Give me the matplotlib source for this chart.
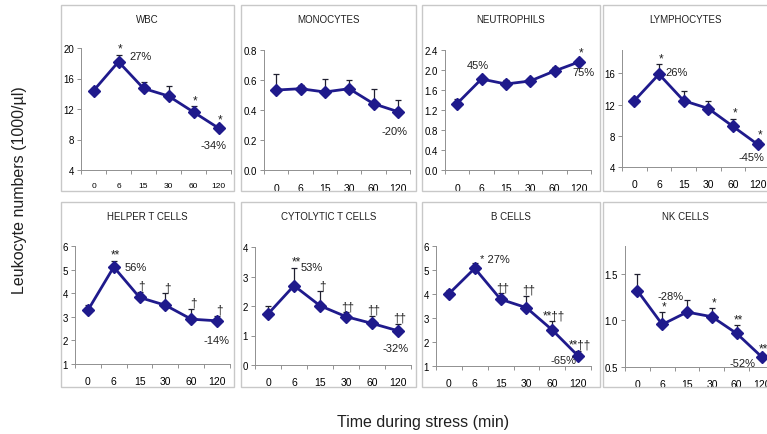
import matplotlib
matplotlib.use("Agg")
import matplotlib.pyplot as plt
from matplotlib.patches import Rectangle
import numpy as np

plt.rcParams['font.family'] = ['Liberation Sans', 'DejaVu Sans']

times = ['0', '6', '15', '30', '60', '120']

wbc = [14.4, 18.2, 14.7, 13.7, 11.6, 9.5]
wbc_err = [0.3, 0.9, 0.9, 1.3, 0.8, 0.4]
mono = [0.533, 0.542, 0.52, 0.542, 0.442, 0.389]
mono_err = [0.105, 0.022, 0.089, 0.056, 0.096, 0.078]
neut = [1.33, 1.82, 1.72, 1.78, 1.98, 2.16]
neut_err = [0.10, 0.04, 0.08, 0.04, 0.09, 0.07]
lymph = [12.5, 15.9, 12.5, 11.5, 9.2, 6.9]
lymph_err = [0.4, 1.3, 1.2, 1.0, 1.0, 0.5]
helper = [3.28, 5.11, 3.82, 3.49, 2.90, 2.83]
helper_err = [0.20, 0.26, 0.25, 0.50, 0.45, 0.21]
cyto = [1.73, 2.69, 2.01, 1.64, 1.41, 1.16]
cyto_err = [0.26, 0.61, 0.49, 0.14, 0.26, 0.23]
bcell = [4.01, 5.07, 3.78, 3.43, 2.50, 1.42]
bcell_err = [0.16, 0.21, 0.25, 0.49, 0.37, 0.21]
nk = [1.32, 0.957, 1.09, 1.04, 0.86, 0.61]
nk_err = [0.18, 0.13, 0.13, 0.09, 0.09, 0.03]

wbc_sig = ['', '*', '', '', '*', '*']
mono_sig = ['', '', '', '', '', '']
neut_sig = ['', '', '', '', '', '*']
lymph_sig = ['', '*', '', '', '*', '*']
helper_sig = ['', '**', '†', '†', '†', '†']
cyto_sig = ['', '**', '†', '††', '††', '††']
bcell_sig = ['', '', '††', '††', '**††', '**††']
nk_sig = ['', '*', '', '*', '**', '**']

titles = ['WBC', 'MONOCYTES', 'NEUTROPHILS', 'LYMPHOCYTES',
          'HELPER T CELLS', 'CYTOLYTIC T CELLS', 'B CELLS', 'NK CELLS']

W, H = 767, 435
fig = plt.figure(figsize=(W / 100, H / 100), dpi=100)

def fx(x):
    return x / W

def fy(y):
    return 1 - y / H

# panel boxes (pixel coords: x0, y0, x1, y1)
boxes = [(61, 6, 234, 192), (241, 6, 416, 192), (422, 6, 600, 192), (603, 6, 770, 192),
         (61, 203, 234, 388), (241, 203, 416, 388), (422, 203, 600, 388), (603, 203, 770, 388)]
for (x0, y0, x1, y1) in boxes:
    fig.patches.append(Rectangle((fx(x0), fy(y1)), fx(x1 - x0), (y1 - y0) / H,
                                 transform=fig.transFigure, fill=False,
                                 edgecolor='#c8c8c8', lw=1.0))

# axes positions (pixel coords: left, top, right, bottom)
axpos = [(81, 49, 231, 171), (264, 51, 410, 171), (445, 51, 591, 171), (622, 51, 770, 168),
         (75, 247, 230, 365), (255, 248, 411, 366), (436, 247, 591, 367), (625, 247, 774, 368)]

panels = [
    (wbc, wbc_err, wbc_sig, (4, 20), [4, 8, 12, 16, 20], '{:.0f}',
     [(1, '27%', (22, 6)), (5, '-34%', (-5, -17))]),
    (mono, mono_err, mono_sig, (0, 0.8), [0, 0.2, 0.4, 0.6, 0.8], '{:.1f}',
     [(5, '-20%', (-3, -19))]),
    (neut, neut_err, neut_sig, (0, 2.4), [0, 0.4, 0.8, 1.2, 1.6, 2.0, 2.4], '{:.1f}',
     [(1, '45%', (-4, 14)), (5, '75%', (5, -10))]),
    (lymph, lymph_err, lymph_sig, (4, 19), [4, 8, 12, 16], '{:.0f}',
     [(1, '26%', (18, 2)), (5, '-45%', (-6, -13))]),
    (helper, helper_err, helper_sig, (1, 6), [1, 2, 3, 4, 5, 6], '{:.0f}',
     [(1, '56%', (22, 0)), (5, '-14%', (-1, -19))]),
    (cyto, cyto_err, cyto_sig, (0, 4), [0, 1, 2, 3, 4], '{:.0f}',
     [(1, '53%', (18, 19)), (5, '-32%', (-2, -17))]),
    (bcell, bcell_err, bcell_sig, (1, 6), [1, 2, 3, 4, 5, 6], '{:.0f}',
     [(1, '* 27%', (20, 9)), (5, '-65%', (-15, -4))]),
    (nk, nk_err, nk_sig, (0.5, 1.8), [0.5, 1.0, 1.5], '{:.1f}',
     [(1, '-28%', (8, 28)), (5, '-52%', (-19, -6))]),
]

line_color = '#1f1a8c'
x = np.arange(len(times))

for i, (pos, panel, title) in enumerate(zip(axpos, panels, titles)):
    l, t, r, b = pos
    ax = fig.add_axes([fx(l), fy(b), fx(r - l), (b - t) / H])
    vals, errs, sigs, ylim, yticks, fmt, pcts = panel
    ax.errorbar(x, vals, yerr=[np.zeros(len(errs)), errs], fmt='none',
                ecolor='#202030', elinewidth=0.9, capsize=2.5, capthick=0.9, zorder=2)
    ax.plot(x, vals, color=line_color, lw=2.0, marker='D', markersize=6,
            markerfacecolor=line_color, markeredgecolor=line_color, zorder=3)
    ax.set_xlim(-0.5, 5.5)
    ax.set_ylim(*ylim)
    ax.set_yticks(yticks)
    ax.set_yticklabels([fmt.format(v) for v in yticks])
    ax.set_xticks(x)
    ax.set_xticklabels(times)
    ax.set_xticks(np.arange(-0.5, 6.0, 1.0), minor=True)
    xfs = 6 if i == 0 else 7.5
    ax.tick_params(axis='x', which='major', length=0, labelsize=xfs, pad=9)
    ax.tick_params(axis='x', which='minor', length=3, width=0.6, direction='out', color='#808080')
    ax.tick_params(axis='y', which='major', length=3, width=0.6, direction='out',
                   labelsize=7, pad=2, color='#808080')
    for s in ['top', 'right']:
        ax.spines[s].set_visible(False)
    for s in ['left', 'bottom']:
        ax.spines[s].set_color('#909090')
        ax.spines[s].set_linewidth(0.7)
    ax.patch.set_alpha(0)
    for j, sg in enumerate(sigs):
        if sg:
            ax.annotate(sg, (x[j], vals[j] + errs[j]), xytext=(2, 0),
                        textcoords='offset pixels', ha='center', va='bottom',
                        fontsize=8.5, color='#202020', annotation_clip=False)
    for (j, txt, off) in pcts:
        ax.annotate(txt, (x[j], vals[j]), xytext=off, textcoords='offset pixels',
                    ha='center', va='center', fontsize=8, color='#202020',
                    annotation_clip=False)
    bx0, by0, bx1, by1 = boxes[i]
    cx = (bx0 + bx1) / 2 if i not in (3, 7) else 685
    fig.text(fx(cx), fy(by0 + 14), title, ha='center', va='center',
             fontsize=7, color='#202020')

fig.text(fx(20), fy(190), 'Leukocyte numbers (1000/\u00b5l)', rotation=90,
         ha='center', va='center', fontsize=11.5, color='#202020')
fig.text(fx(423), fy(423), 'Time during stress (min)', ha='center', va='center',
         fontsize=11.5, color='#202020')

fig.savefig('out.png', dpi=100)
